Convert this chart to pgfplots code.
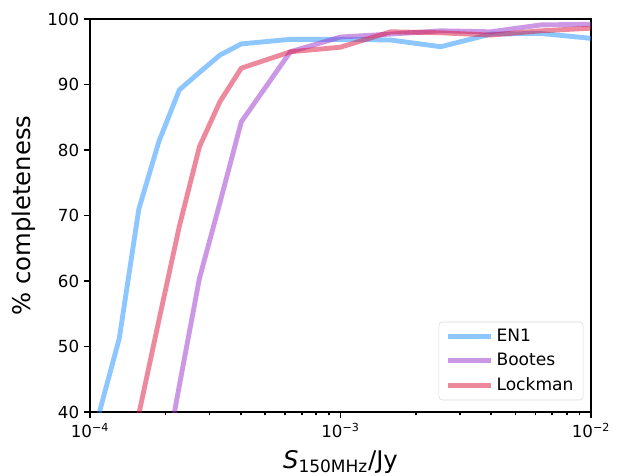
\documentclass[border=0pt]{standalone}
\usepackage{fontspec}
\setmainfont{DejaVu Sans}
\usepackage{pgfplots}
\pgfplotsset{compat=1.18}
\definecolor{cEN}{RGB}{30,144,255}
\definecolor{cBO}{RGB}{153,50,204}
\definecolor{cLO}{RGB}{220,20,60}
\begin{document}
\begin{tikzpicture}
\useasboundingbox (-64.8pt,-46pt) rectangle (385.2pt,296.7pt);
\begin{axis}[
  scale only axis, width=360.7pt, height=283pt,
  xmode=log, xmin=1e-4, xmax=1e-2, ymin=40, ymax=100,
  xtick={1e-4,1e-3,1e-2},
  xticklabels={10\textsuperscript{−4},10\textsuperscript{−3},10\textsuperscript{−2}},
  ytick={40,50,60,70,80,90,100},
  /pgf/number format/assume math mode=true,
  tick align=outside, tick pos=left,
  major tick length=4.3pt, minor tick length=2.4pt,
  every tick/.style={black, line width=1.2pt},
  axis line style={line width=1.6pt},
  tick label style={font=\fontsize{12}{14}\selectfont},
  xlabel={{\itshape S}\textsubscript{150MHz}/Jy},
  ylabel={\% completeness},
  label style={font=\fontsize{17.5}{20}\selectfont},
  xlabel style={at={(axis description cs:0.5,-0.127)}, anchor=center},
  ylabel style={at={(axis description cs:-0.133,0.5)}, anchor=center},
  legend style={at={(0.985,0.03)}, anchor=south east, draw=black!15, rounded corners=2.5pt,
    font=\fontsize{12.3}{14}\selectfont, inner xsep=5pt, inner ysep=3pt, row sep=3.2pt},
  legend cell align=left,
  legend image code/.code={\draw[#1, line width=3.5pt] (0pt,0pt) -- (31pt,0pt);},
  every axis plot/.append style={line width=3.5pt, opacity=0.5, line join=round},
  clip=true,
]
\addplot[color=cEN] coordinates {
 (1.089e-4,39.9) (1.309e-4,51.25) (1.567e-4,71.0) (1.884e-4,81.3) (2.275e-4,89.2)
 (2.735e-4,91.85) (3.304e-4,94.5) (4.018e-4,96.2) (6.31e-4,96.9) (1e-3,96.9)
 (1.585e-3,96.8) (2.512e-3,95.77) (3.981e-3,97.7) (6.31e-3,97.8) (1e-2,97.05)};
\addlegendentry{EN1}
\addplot[color=cBO] coordinates {
 (1.884e-4,27.0) (2.275e-4,44.1) (2.735e-4,60.4) (3.304e-4,72.0) (4.018e-4,84.3)
 (6.31e-4,95.0) (1e-3,97.25) (1.585e-3,97.7) (2.512e-3,98.2) (3.981e-3,98.05)
 (6.31e-3,99.1) (1e-2,99.2)};
\addlegendentry{Bootes}
\addplot[color=cLO] coordinates {
 (1.567e-4,39.7) (1.884e-4,54.0) (2.275e-4,68.4) (2.735e-4,80.5) (3.304e-4,87.4)
 (4.018e-4,92.5) (6.31e-4,95.0) (1e-3,95.7) (1.585e-3,98.05) (2.512e-3,97.9)
 (3.981e-3,97.55) (6.31e-3,98.2) (1e-2,98.6)};
\addlegendentry{Lockman}
\end{axis}
\end{tikzpicture}
\end{document}
